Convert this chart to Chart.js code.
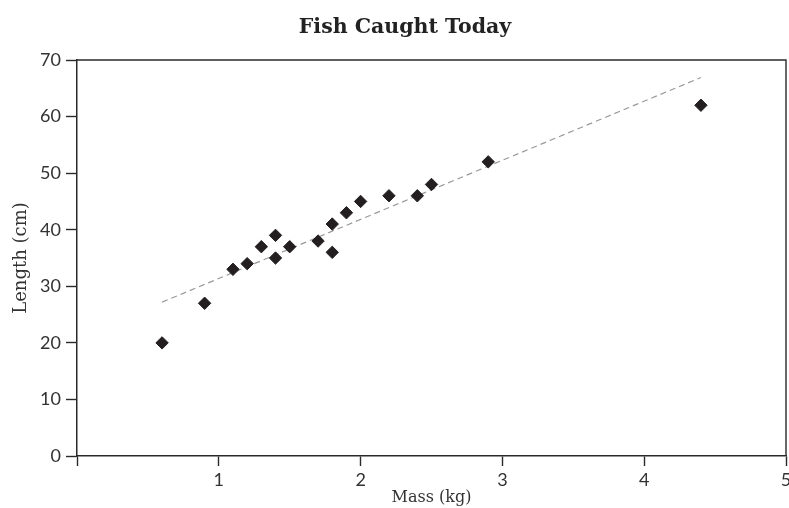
<!DOCTYPE html>
<html>
<head>
<meta charset="utf-8">
<script src="https://cdn.jsdelivr.net/npm/chart.js@4/dist/chart.umd.min.js"></script>
<style>
  html, body { margin: 0; padding: 0; background: #fff; overflow: hidden; }
  #wrap { width: 800px; height: 508px; }
</style>
</head>
<body>
<div id="wrap"><canvas id="fishChart" width="800" height="508"></canvas></div>
<script>
// ============ DATA ============
const massKg = [0.6, 0.9, 1.1, 1.2, 1.3, 1.4, 1.4, 1.5, 1.7, 1.8, 1.8, 1.9, 2.0, 2.2, 2.4, 2.5, 2.9, 4.4];
const lengthCm = [20, 27, 33, 34, 37, 39, 35, 37, 38, 41, 36, 43, 45, 46, 46, 48, 52, 62];
const trendMass = [0.6, 4.4];
const trendLength = [27.2, 66.9];
const xTicks = [0, 1, 2, 3, 4, 5];
const yTicks = [0, 10, 20, 30, 40, 50, 60, 70];

const INK = "#231f20";
const AXIS = "#2a2a2a";
const TICK_FONT = { family: "Lato, 'Open Sans', sans-serif", size: 18 };

// top + right frame lines
const framePlugin = {
  id: "frame",
  afterDraw(chart) {
    const { ctx, chartArea: a } = chart;
    ctx.save();
    ctx.strokeStyle = AXIS;
    ctx.lineWidth = 1.4;
    ctx.beginPath();
    ctx.moveTo(a.left, a.top);
    ctx.lineTo(a.right, a.top);
    ctx.lineTo(a.right, a.bottom);
    ctx.stroke();
    ctx.restore();
  }
};

const points = massKg.map((m, i) => ({ x: m, y: lengthCm[i] }));
const trend = trendMass.map((m, i) => ({ x: m, y: trendLength[i] }));

new Chart(document.getElementById("fishChart"), {
  type: "scatter",
  data: {
    datasets: [
      {
        label: "Fish",
        data: points,
        pointStyle: "rectRot",
        pointRadius: 6.2,
        borderWidth: 1,
        backgroundColor: INK,
        borderColor: INK,
      },
      {
        label: "Trend",
        data: trend,
        showLine: true,
        pointRadius: 0,
        borderColor: "#999",
        borderWidth: 1.2,
        borderDash: [6, 4],
        fill: false,
      }
    ]
  },
  options: {
    responsive: false,
    animation: false,
    devicePixelRatio: 1,
    // left padding only shifts the title box so it centres like the original
    layout: { padding: { left: 24, right: 14, top: 0, bottom: 0 } },
    plugins: {
      legend: { display: false },
      tooltip: { enabled: false },
      title: {
        display: true,
        text: "Fish Caught Today",
        color: "#222",
        font: { family: "'DejaVu Serif', serif", size: 20.5, weight: "bold" },
        padding: { top: 15, bottom: 20.4 }
      }
    },
    scales: {
      x: {
        type: "linear",
        min: 0,
        max: 5,
        afterBuildTicks: (s) => { s.ticks = xTicks.map(v => ({ value: v })); },
        afterFit: (s) => { s.height = 52; },
        ticks: {
          color: "#333",
          font: TICK_FONT,
          padding: 3,
          callback: (v) => (v === 0 ? "" : v)
        },
        grid: { drawOnChartArea: false, drawTicks: true, tickLength: 10, tickColor: AXIS, tickWidth: 1.4 },
        border: { display: true, color: AXIS, width: 1.5 },
        title: {
          display: true, text: "Mass (kg)", color: "#333",
          font: { family: "'DejaVu Serif', serif", size: 16 },
          padding: { top: 0, bottom: 1 }
        }
      },
      y: {
        type: "linear",
        min: 0,
        max: 70,
        afterBuildTicks: (s) => { s.ticks = yTicks.map(v => ({ value: v })); },
        afterFit: (s) => { s.width = 53; },
        ticks: { color: "#333", font: TICK_FONT, padding: 5 },
        grid: { drawOnChartArea: false, drawTicks: true, tickLength: 11, tickColor: AXIS, tickWidth: 1.4 },
        border: { display: true, color: AXIS, width: 1.5 },
        title: {
          display: true, text: "Length (cm)", color: "#333",
          font: { family: "'DejaVu Serif', serif", size: 18 },
          padding: { top: -13, bottom: 0 }
        }
      }
    }
  },
  plugins: [framePlugin]
});
</script>
</body>
</html>
